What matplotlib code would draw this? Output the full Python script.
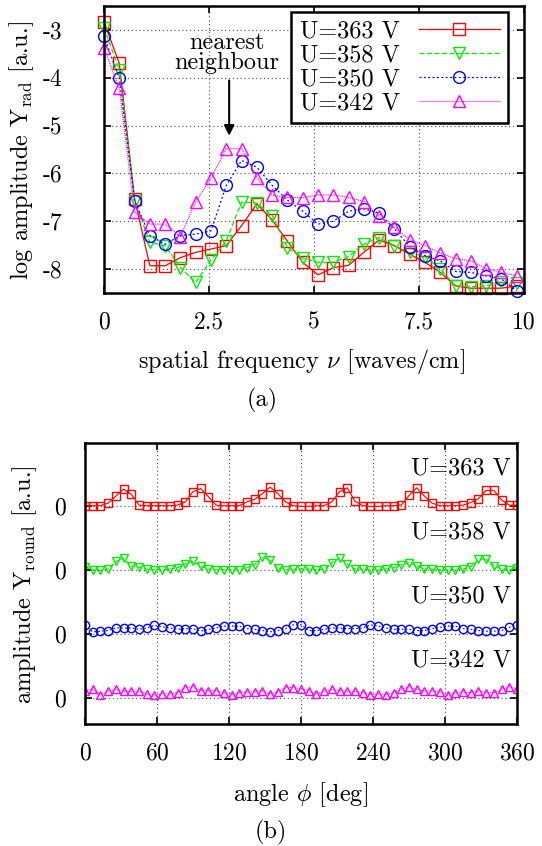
import numpy as np
import matplotlib
matplotlib.use('Agg')
import matplotlib.pyplot as plt

plt.rcParams['font.family'] = ['cmr10', 'DejaVu Serif']
plt.rcParams['mathtext.fontset'] = 'cm'
plt.rcParams['axes.unicode_minus'] = False
plt.rcParams['axes.formatter.use_mathtext'] = True

# (a) radial spectrum
nu = np.arange(28) * 0.364
rad_363 = [-2.83, -3.70, -6.53, -7.93, -7.93, -7.76, -7.65, -7.58, -7.51, -7.09, -6.64, -6.97, -7.42, -7.86,
           -8.12, -7.97, -7.92, -7.65, -7.39, -7.51, -7.69, -7.86, -8.07, -8.35, -8.40, -8.40, -8.40, -8.35]
rad_358 = [-2.95, -3.84, -6.57, -7.44, -7.51, -7.97, -8.28, -7.81, -7.41, -6.60, -6.62, -6.88, -7.55, -7.77,
           -7.86, -7.86, -7.74, -7.48, -7.34, -7.51, -7.65, -7.74, -8.00, -8.35, -8.37, -8.35, -8.28, -8.30]
rad_350 = [-3.13, -4.01, -6.57, -7.30, -7.48, -7.30, -7.27, -7.20, -6.25, -5.73, -5.87, -6.25, -6.56, -6.79,
           -7.06, -7.00, -6.79, -6.74, -6.83, -7.16, -7.53, -7.72, -7.83, -8.05, -8.07, -8.14, -8.21, -8.45]
rad_342 = [-3.38, -4.22, -6.81, -7.06, -7.06, -7.32, -6.59, -6.10, -5.48, -5.48, -6.09, -6.46, -6.50, -6.51,
           -6.45, -6.45, -6.50, -6.59, -6.90, -7.13, -7.39, -7.51, -7.67, -7.78, -7.83, -7.99, -8.07, -8.14]

# (b) azimuthal profiles
phi = np.arange(57) * 360 / 56
round_363 = [0, 0, 0, 0.04, 0.15, 0.26, 0.18, 0.01, 0, 0, 0, 0, 0.01, 0.06, 0.22, 0.27, 0.14, 0.01, 0, 0,
             0, 0.06, 0.10, 0.19, 0.29, 0.19, 0.06, 0, -0.01, -0.01, 0, 0, 0.06, 0.22, 0.28, 0.07, 0, -0.01,
             -0.01, 0, 0, 0.01, 0.16, 0.28, 0.15, 0.04, 0, 0, 0, 0.01, 0.05, 0.11, 0.24, 0.24, 0.09, 0.01, 0.01]
round_358 = [0.04, 0.0, -0.01, 0.01, 0.13, 0.18, 0.06, 0.04, 0.01, 0.0, 0.0, 0.01, 0.03, 0.09, 0.13, 0.06,
             0.01, 0.0, 0.0, 0.0, 0.0, 0.03, 0.08, 0.20, 0.15, 0.03, 0.0, 0.01, 0.01, 0.01, 0.0, 0.01, 0.11,
             0.18, 0.09, 0.01, 0.01, 0.0, 0.0, 0.01, 0.03, 0.08, 0.11, 0.06, 0.01, 0.01, 0.0, 0.0, 0.0, 0.01,
             0.05, 0.16, 0.17, 0.06, 0.01, 0.0, 0.03]
round_350 = [0.13, 0.03, 0.04, 0.05, 0.09, 0.09, 0.09, 0.07, 0.09, 0.13, 0.11, 0.09, 0.07, 0.08, 0.08, 0.04,
             0.07, 0.09, 0.12, 0.12, 0.12, 0.08, 0.07, 0.05, 0.03, 0.05, 0.08, 0.14, 0.14, 0.05, 0.05, 0.07,
             0.09, 0.09, 0.08, 0.08, 0.09, 0.14, 0.12, 0.09, 0.07, 0.07, 0.07, 0.05, 0.05, 0.08, 0.10, 0.12,
             0.12, 0.08, 0.07, 0.05, 0.04, 0.04, 0.05, 0.10, 0.14]
round_342 = [0.11, 0.13, 0.04, 0.11, 0.13, 0.10, 0.10, 0.10, 0.06, 0.04, 0.06, 0.06, 0.08, 0.16, 0.17, 0.11,
             0.11, 0.11, 0.08, 0.04, 0.08, 0.09, 0.09, 0.11, 0.06, 0.09, 0.16, 0.16, 0.14, 0.11, 0.06, 0.10,
             0.13, 0.11, 0.10, 0.10, 0.08, 0.05, 0.06, 0.05, 0.08, 0.13, 0.17, 0.13, 0.10, 0.11, 0.09, 0.04,
             0.08, 0.09, 0.08, 0.11, 0.08, 0.08, 0.13, 0.17, 0.14]

labels = ['U=363 V', 'U=358 V', 'U=350 V', 'U=342 V']
colors = ['#ff0000', '#00ee00', '#0000ff', '#ff00ff']
markers = ['s', 'v', 'o', '^']
styles = ['-', (0, (4, 2)), (0, (1.5, 2)), (0, (0.8, 0.8))]

W, H = 542, 846
fig = plt.figure(figsize=(W / 100, H / 100), dpi=100)


def box(l, t, r, b):
    return [l / W, 1 - b / H, (r - l) / W, (b - t) / H]


def style_axes(ax):
    for s in ax.spines.values():
        s.set_linewidth(1.8)
    ax.tick_params(direction='in', length=5, width=1.2, top=True, right=True, labelsize=17)
    ax.grid(True, color='0.3', linestyle=(0, (1, 2.5)), linewidth=0.8)
    ax.set_axisbelow(True)


# ---- (a)
ax1 = fig.add_axes(box(104, 6, 524, 293))
style_axes(ax1)
for y, lab, c, m, ls in zip([rad_363, rad_358, rad_350, rad_342], labels, colors, markers, styles):
    ax1.plot(nu, y, color=c, linestyle=ls, linewidth=0.9, marker=m, markersize=8.5,
             markerfacecolor='none', markeredgecolor=c, markeredgewidth=1.0, label=lab, clip_on=False)
ax1.set_xlim(0, 10)
ax1.set_ylim(-8.5, -2.5)
ax1.set_xticks([0, 2.5, 5, 7.5, 10])
ax1.set_xticklabels(['0', '2.5', '5', '7.5', '10'])
ax1.set_yticks([-8, -7, -6, -5, -4, -3])
ax1.set_yticklabels(['-8', '-7', '-6', '-5', '-4', '-3'])
ax1.tick_params(axis='x', pad=13)
ax1.tick_params(axis='y', pad=30)
leg = ax1.legend(loc='upper right', bbox_to_anchor=(0.962, 0.979), borderaxespad=0, markerfirst=False,
                 numpoints=1, handlelength=3.3, fontsize=17.5, fancybox=False, framealpha=1,
                 edgecolor='black', borderpad=0.35, labelspacing=0.08, handletextpad=0.8)
leg.get_frame().set_linewidth(1.8)
ax1.annotate('', xy=(2.98, -5.27), xytext=(2.98, -4.0),
             arrowprops=dict(arrowstyle='-|>', color='k', lw=1.5, mutation_scale=15))
ax1.text(2.93, -3.48, 'nearest\nneighbour', ha='center', va='center', fontsize=17.5, linespacing=0.85)

fig.text(302 / W, 1 - 361 / H, r'spatial frequency $\nu$ [waves/cm]', ha='center', va='center', fontsize=17.5)
fig.text(22 / W, 1 - 150 / H, r'log amplitude Y$_{\rm rad}$ [a.u.]', ha='center', va='center',
         rotation=90, fontsize=17.5)
fig.text(262 / W, 1 - 400 / H, '(a)', ha='center', va='center', fontsize=17.5)

# ---- (b)
ax2 = fig.add_axes(box(85, 443, 517, 724))
style_axes(ax2)
offsets = [3, 2, 1, 0]
for y, off, lab, c, m, ls in zip([round_363, round_358, round_350, round_342], offsets, labels, colors,
                                 markers, styles):
    ax2.plot(phi, np.array(y) + off, color=c, linestyle=ls, linewidth=0.8, marker=m, markersize=6,
             markerfacecolor='none', markeredgecolor=c, markeredgewidth=1.0)
    ax2.text(354.7, off + 0.58, lab, ha='right', va='center', fontsize=17.5)
ax2.set_xlim(0, 360)
ax2.set_ylim(-0.41, 3.98)
ax2.set_xticks([0, 60, 120, 180, 240, 300, 360])
ax2.set_yticks(offsets)
ax2.set_yticklabels(['0'] * 4)
ax2.tick_params(axis='x', pad=13)
ax2.tick_params(axis='y', pad=14)

fig.text(301 / W, 1 - 795 / H, r'angle $\phi$ [deg]', ha='center', va='center', fontsize=17.5)
fig.text(25 / W, 1 - 585 / H, r'amplitude Y$_{\rm round}$ [a.u.]', ha='center', va='center',
         rotation=90, fontsize=17.5)
fig.text(271 / W, 1 - 832 / H, '(b)', ha='center', va='center', fontsize=17.5)

fig.savefig('out.png', dpi=100)
